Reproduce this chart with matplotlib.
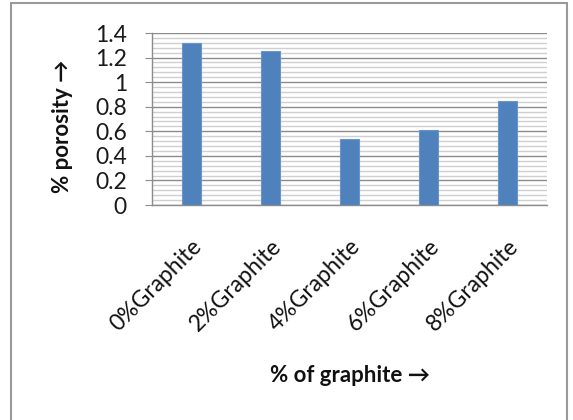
import matplotlib
matplotlib.use("Agg")
import matplotlib.pyplot as plt
from matplotlib.ticker import MultipleLocator
from matplotlib.patches import Rectangle

categories = ["0%Graphite", "2%Graphite", "4%Graphite", "6%Graphite", "8%Graphite"]
porosity = [1.32, 1.25, 0.54, 0.61, 0.85]
y_ticks = [0, 0.2, 0.4, 0.6, 0.8, 1.0, 1.2, 1.4]
y_tick_labels = ["0", "0.2", "0.4", "0.6", "0.8", "1", "1.2", "1.4"]

fonts = ["Lato", "DejaVu Sans"]
plt.rcParams["font.family"] = fonts

fig = plt.figure(figsize=(5.73, 4.20), dpi=100)
fig.patch.set_facecolor("white")

# outer frame of the chart area
frame = Rectangle((11 / 573, -0.02), (567 - 11) / 573, 1 - 3 / 420 + 0.02,
                  transform=fig.transFigure, fill=False,
                  edgecolor="#9a9a9a", linewidth=1.5)
fig.add_artist(frame)

ax = fig.add_axes([152 / 573, (420 - 205) / 420, (547 - 152) / 573, (205 - 33) / 420])

x = list(range(len(categories)))
ax.bar(x, porosity, width=0.24, color="#4F81BD", edgecolor="#6a95c8",
       linewidth=0.8, zorder=3)

ax.set_xlim(-0.5, len(categories) - 0.5)
ax.set_ylim(0, 1.4)
ax.set_yticks(y_ticks)
ax.set_yticklabels(y_tick_labels)
ax.yaxis.set_minor_locator(MultipleLocator(0.04))

ax.grid(axis="y", which="major", color="#8c8c8c", linewidth=1.0, zorder=0)
ax.grid(axis="y", which="minor", color="#cfcfcf", linewidth=1.0, zorder=0)
ax.set_axisbelow(True)

for side in ["top", "right"]:
    ax.spines[side].set_visible(False)
ax.spines["left"].set_color("#8c8c8c")
ax.spines["bottom"].set_color("#8c8c8c")
ax.spines["left"].set_linewidth(1.0)
ax.spines["bottom"].set_linewidth(1.0)

ax.tick_params(axis="y", which="major", direction="out", length=5,
               color="#8c8c8c", labelsize=16.5, pad=13, labelcolor="#1a1a1a")
ax.tick_params(axis="y", which="minor", length=0)
ax.tick_params(axis="x", length=0, pad=22)

ax.set_xticks(x)
ax.set_xticklabels(categories, rotation=45, ha="right", va="top",
                   rotation_mode="anchor", fontsize=16.5, color="#111111")

ax.set_ylabel("% porosity →", fontsize=16, fontweight="bold", color="#111111")
ax.yaxis.set_label_coords(-0.20, 0.46)
ax.set_xlabel("% of graphite →", fontsize=16, fontweight="bold", color="#111111")
ax.xaxis.set_label_coords(0.5, -0.93)

fig.savefig("out.png", dpi=100, facecolor="white")
